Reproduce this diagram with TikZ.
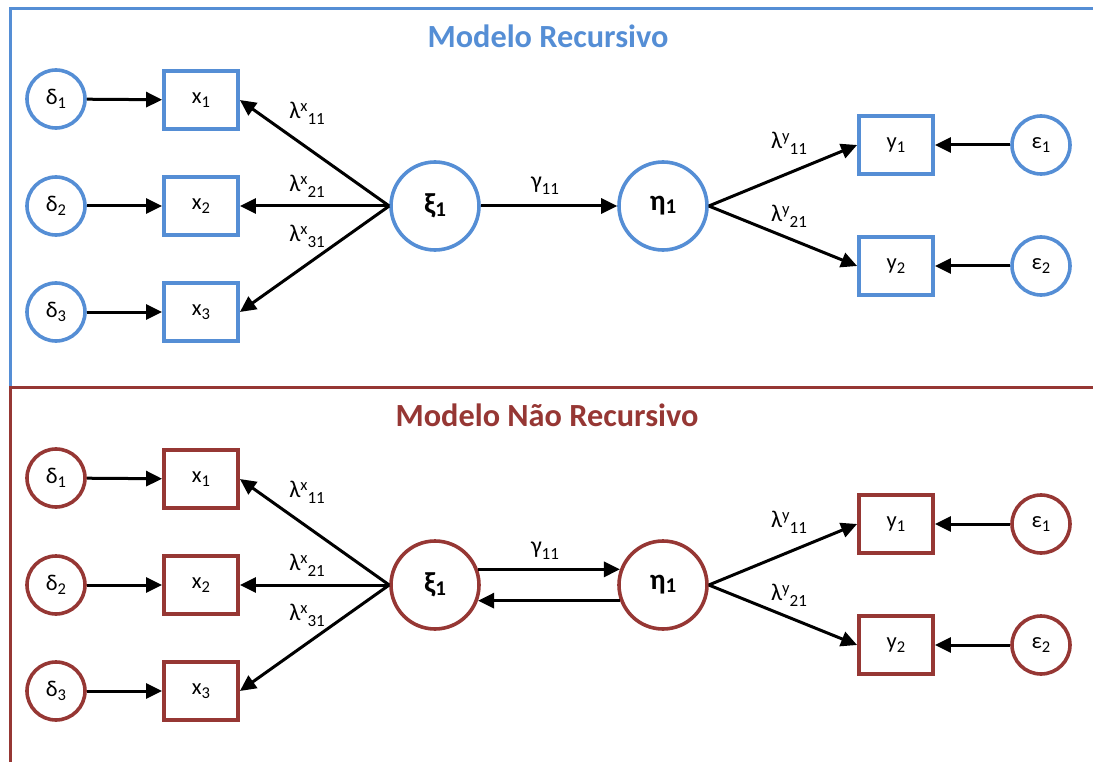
\documentclass[tikz,border=0pt]{standalone}
\usepackage{fontspec}
\setmainfont{Carlito}
\usetikzlibrary{arrows.meta}
\definecolor{fblue}{RGB}{85,142,213}
\definecolor{fred}{RGB}{150,55,52}
\newcommand{\nodefont}{\fontsize{22.5}{26}\selectfont}
\newcommand{\labfont}{\fontsize{24}{28}\selectfont}
\newcommand{\bignodefont}{\fontsize{29}{33}\selectfont\bfseries}
\newcommand{\titlefont}{\fontsize{32.3}{37}\selectfont\bfseries}
\newcommand{\mysub}[1]{\raisebox{-4.5pt}{\fontsize{16.5}{16.5}\selectfont #1}}
\newcommand{\lsub}[1]{\raisebox{-6pt}{\fontsize{17}{17}\selectfont #1}}
\newcommand{\mysup}[1]{\raisebox{7pt}{\fontsize{16.5}{16.5}\selectfont #1}}
\newcommand{\mybsub}[1]{\raisebox{-3pt}{\fontsize{21}{21}\selectfont\bfseries #1}}
\tikzset{
  lat/.style={circle, draw=#1, line width=3.6pt, minimum size=58pt, inner sep=0pt, font=\nodefont},
  bigl/.style={circle, draw=#1, line width=3.6pt, minimum size=88pt, inner sep=0pt, font=\bignodefont},
  obs/.style={rectangle, draw=#1, line width=3.8pt, minimum width=74pt, minimum height=58pt, inner sep=0pt, font=\nodefont},
  arr/.style={line width=3pt, -{Triangle[length=16pt,width=15pt]}},
  lab/.style={font=\labfont, inner sep=0pt},
  ttl/.style={font=\titlefont, text=#1, inner sep=0pt, anchor=base},
  frame/.style={draw=#1, line width=3pt}
}
\begin{document}
\begin{tikzpicture}[x=1pt,y=-1pt]
\useasboundingbox (0,0) rectangle (1093,762);
% frames
\draw[frame=fblue] (1093,8.5) -- (10,8.5) -- (10,386);
\draw[frame=fred] (1093,387.5) -- (10,387.5) -- (10,762);

% ---------- top panel ----------
\node[ttl=fblue] (at) at (548,48) {Modelo Recursivo};
\node[lat=fblue] (ad1) at (56,99) {δ\mysub{1}};
\node[lat=fblue] (ad2) at (56,206) {δ\mysub{2}};
\node[lat=fblue] (ad3) at (56,312) {δ\mysub{3}};
\node[obs=fblue] (ax1) at (201,100) {x\mysub{1}};
\node[obs=fblue] (ax2) at (201,206) {x\mysub{2}};
\node[obs=fblue] (ax3) at (201,312) {x\mysub{3}};
\node[bigl=fblue] (axi) at (435,206) {ξ\mybsub{1}};
\node[bigl=fblue] (aeta) at (663,206) {η\mybsub{1}};
\node[obs=fblue] (ay1) at (896,145) {y\mysub{1}};
\node[obs=fblue] (ay2) at (896,266) {y\mysub{2}};
\node[lat=fblue] (ae1) at (1041,145) {ε\mysub{1}};
\node[lat=fblue] (ae2) at (1041,266) {ε\mysub{2}};

\draw[arr] (ad1) -- (ax1);
\draw[arr] (ad2) -- (ax2);
\draw[arr] (ad3) -- (ax3);
\draw[arr] (axi.west) -- (ax1.east);
\draw[arr] (axi.west) -- (ax2.east);
\draw[arr] (axi.west) -- (ax3.east);
\draw[arr] (axi) -- (aeta);
\draw[arr] (aeta.east) -- (ay1.west);
\draw[arr] (aeta.east) -- (ay2.west);
\draw[arr] (ae1) -- (ay1);
\draw[arr] (ae2) -- (ay2);

\node[lab] (al1) at (307,113) {λ\mysup{x}\lsub{11}};
\node[lab] (al2) at (307,186) {λ\mysup{x}\lsub{21}};
\node[lab] (al3) at (307,236) {λ\mysup{x}\lsub{31}};
\node[lab] (ag) at (545,186) {γ\lsub{11}};
\node[lab] (al4) at (789,143) {λ\mysup{y}\lsub{11}};
\node[lab] (al5) at (789,216) {λ\mysup{y}\lsub{21}};

% ---------- bottom panel ----------
\node[ttl=fred] (bt) at (547,426) {Modelo Não Recursivo};
\node[lat=fred] (bd1) at (56,478) {δ\mysub{1}};
\node[lat=fred] (bd2) at (56,585) {δ\mysub{2}};
\node[lat=fred] (bd3) at (56,691) {δ\mysub{3}};
\node[obs=fred] (bx1) at (201,479) {x\mysub{1}};
\node[obs=fred] (bx2) at (201,585) {x\mysub{2}};
\node[obs=fred] (bx3) at (201,691) {x\mysub{3}};
\node[bigl=fred] (bxi) at (435,585) {ξ\mybsub{1}};
\node[bigl=fred] (beta) at (663,585) {η\mybsub{1}};
\node[obs=fred] (by1) at (896,524) {y\mysub{1}};
\node[obs=fred] (by2) at (896,645) {y\mysub{2}};
\node[lat=fred] (be1) at (1041,524) {ε\mysub{1}};
\node[lat=fred] (be2) at (1041,645) {ε\mysub{2}};

\draw[arr] (bd1) -- (bx1);
\draw[arr] (bd2) -- (bx2);
\draw[arr] (bd3) -- (bx3);
\draw[arr] (bxi.west) -- (bx1.east);
\draw[arr] (bxi.west) -- (bx2.east);
\draw[arr] (bxi.west) -- (bx3.east);
\draw[arr] (bxi.20) -- (beta.160);
\draw[arr] (beta.200) -- (bxi.-20);
\draw[arr] (beta.east) -- (by1.west);
\draw[arr] (beta.east) -- (by2.west);
\draw[arr] (be1) -- (by1);
\draw[arr] (be2) -- (by2);

\node[lab] (bl1) at (307,492) {λ\mysup{x}\lsub{11}};
\node[lab] (bl2) at (307,565) {λ\mysup{x}\lsub{21}};
\node[lab] (bl3) at (307,615) {λ\mysup{x}\lsub{31}};
\node[lab] (bg) at (545,551) {γ\lsub{11}};
\node[lab] (bl4) at (789,522) {λ\mysup{y}\lsub{11}};
\node[lab] (bl5) at (789,595) {λ\mysup{y}\lsub{21}};
\end{tikzpicture}
\end{document}
